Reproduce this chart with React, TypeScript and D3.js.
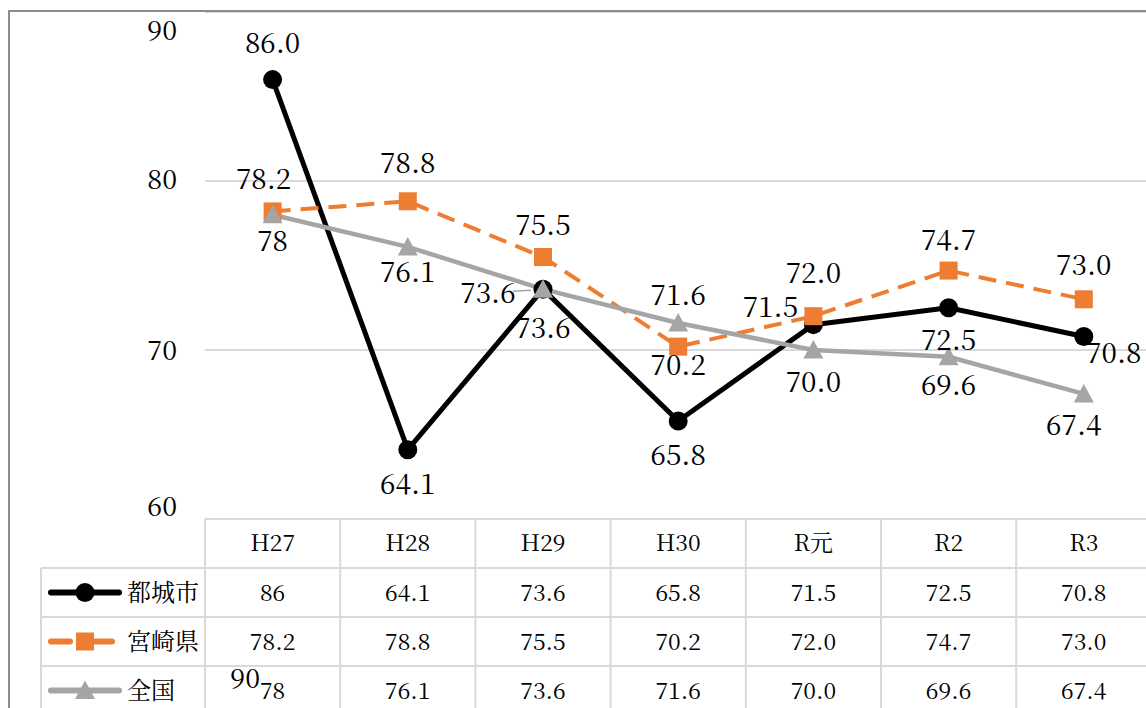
import React from "react";
import * as d3 from "d3";

const categories = ["H27", "H28", "H29", "H30", "R元", "R2", "R3"];
const seriesNames = ["都城市", "宮崎県", "全国"];
const miyakonojo = [86.0, 64.1, 73.6, 65.8, 71.5, 72.5, 70.8];
const miyazaki = [78.2, 78.8, 75.5, 70.2, 72.0, 74.7, 73.0];
const national = [78, 76.1, 73.6, 71.6, 70.0, 69.6, 67.4];
const miyakonojoChartLabels = ["86.0", "64.1", "73.6", "65.8", "71.5", "72.5", "70.8"];
const miyakonojoTableLabels = ["86", "64.1", "73.6", "65.8", "71.5", "72.5", "70.8"];
const miyazakiLabels = ["78.2", "78.8", "75.5", "70.2", "72.0", "74.7", "73.0"];
const nationalLabels = ["78", "76.1", "73.6", "71.6", "70.0", "69.6", "67.4"];
const yTicks = [60, 70, 80, 90];
const gridValues = [70, 80, 90];

const W = 1146;
const H = 708;
const FONT = '"Noto Serif CJK JP", "Noto Serif CJK SC", "Noto Serif JP", "Liberation Serif", serif';
const tf = { fontFamily: FONT };

// layout
const plotLeft = 205;
const colW = 135.2;
const yTop = 12;
const yBottom = 519;
const rowH = 49;
const legendLeft = 41;
const textShift = -2;

const x = d3
  .scaleBand<string>()
  .domain(categories)
  .range([plotLeft, plotLeft + colW * categories.length]);
const y = d3.scaleLinear().domain([60, 90]).range([yBottom, yTop]);

// label offsets (dx, dy from point to label centre)
const blackOff: [number, number][] = [[0, -37], [0, 34], [0, 39], [0, 34], [-43, -18], [0, 32], [30, 17]];
const orangeOff: [number, number][] = [[-9, -32], [0, -38], [0, -32], [0, 18], [0, -43], [0, -31], [0, -34]];
const grayOff: [number, number][] = [[0, 26], [0, 25], [-55, 4], [0, -28], [0, 32], [0, 28], [-10, 31]];

const tickLabelPos: Record<number, number> = { 60: 506, 70: 350, 80: 179, 90: 30 };

type Series = {
  name: string;
  values: number[];
  labels: string[];
  table: string[];
  color: string;
  width: number;
  dash?: string;
  marker: "circle" | "square" | "triangle";
  off: [number, number][];
};

const series: Series[] = [
  { name: seriesNames[0], values: miyakonojo, labels: miyakonojoChartLabels, table: miyakonojoTableLabels, color: "#000000", width: 5, marker: "circle", off: blackOff },
  { name: seriesNames[1], values: miyazaki, labels: miyazakiLabels, table: miyazakiLabels, color: "#ED7D31", width: 4, dash: "18,10", marker: "square", off: orangeOff },
  { name: seriesNames[2], values: national, labels: nationalLabels, table: nationalLabels, color: "#A5A5A5", width: 4.5, marker: "triangle", off: grayOff },
];

function Marker({ kind, cx, cy, color }: { kind: string; cx: number; cy: number; color: string }) {
  if (kind === "circle") return <circle cx={cx} cy={cy} r={9.5} fill={color} />;
  if (kind === "square") return <rect x={cx - 9} y={cy - 9} width={18} height={18} fill={color} />;
  const s = 10;
  return <path d={`M${cx},${cy - s}L${cx + s},${cy + s * 0.85}L${cx - s},${cy + s * 0.85}Z`} fill={color} />;
}

export default function App() {
  const line = d3
    .line<number>()
    .x((_, i) => (x(categories[i]) as number) + x.bandwidth() / 2)
    .y((d) => y(d));

  const cx = (i: number) => (x(categories[i]) as number) + x.bandwidth() / 2;
  const tableRight = plotLeft + colW * categories.length;
  const rowTops = [yBottom, yBottom + rowH, yBottom + 2 * rowH, yBottom + 3 * rowH, yBottom + 4 * rowH];
  const gridColor = "#d9d9d9";

  return (
    <svg width={W} height={H} style={{ position: "absolute", left: 0, top: 0, background: "#fff" }}>
      <rect x={0} y={0} width={W} height={H} fill="#fff" />
      {/* gridlines */}
      {gridValues.map((v) => (
        <line key={v} x1={plotLeft} x2={tableRight} y1={y(v)} y2={y(v)} stroke={gridColor} strokeWidth={2} />
      ))}
      {/* outer border */}
      <rect x={9} y={11} width={W + 20} height={H + 20} fill="none" stroke="#8c8c8c" strokeWidth={2} />
      {/* y tick labels */}
      {yTicks.map((v) => (
        <text key={v} x={177} y={tickLabelPos[v] + textShift} textAnchor="end" dominantBaseline="central" fontSize={27} fill="#000" style={tf}>
          {v}
        </text>
      ))}

      {/* table grid */}
      <line x1={plotLeft} x2={tableRight} y1={rowTops[0]} y2={rowTops[0]} stroke={gridColor} strokeWidth={2} />
      {rowTops.slice(1).map((ry, i) => (
        <line key={i} x1={legendLeft} x2={tableRight} y1={ry} y2={ry} stroke={gridColor} strokeWidth={2} />
      ))}
      <line x1={legendLeft} x2={legendLeft} y1={rowTops[1]} y2={H + 10} stroke={gridColor} strokeWidth={2} />
      {categories.map((c) => (
        <line key={c} x1={x(c) as number} x2={x(c) as number} y1={rowTops[0]} y2={H + 10} stroke={gridColor} strokeWidth={2} />
      ))}
      <line x1={tableRight} x2={tableRight} y1={rowTops[0]} y2={H + 10} stroke={gridColor} strokeWidth={2} />

      {/* header */}
      {categories.map((c, i) => (
        <text key={c} x={cx(i)} y={rowTops[0] + rowH / 2 + textShift} textAnchor="middle" dominantBaseline="central" fontSize={23} style={tf}>
          {c}
        </text>
      ))}
      {/* rows */}
      {series.map((s, si) => {
        const ry = rowTops[si + 1] + rowH / 2;
        return (
          <g key={s.name}>
            {s.dash ? (
              <>
                <line x1={51} x2={70} y1={ry} y2={ry} stroke={s.color} strokeWidth={6} strokeLinecap="round" />
                <line x1={95} x2={112} y1={ry} y2={ry} stroke={s.color} strokeWidth={6} strokeLinecap="round" />
              </>
            ) : (
              <line x1={51} x2={119} y1={ry} y2={ry} stroke={s.color} strokeWidth={6} strokeLinecap="round" />
            )}
            <Marker kind={s.marker} cx={85} cy={ry} color={s.color} />
            <text x={127} y={ry + textShift} dominantBaseline="central" fontSize={24} style={tf}>
              {s.name}
            </text>
            {s.table.map((t, i) => (
              <text key={i} x={cx(i)} y={ry + 1 + textShift} textAnchor="middle" dominantBaseline="central" fontSize={23} style={tf}>
                {t}
              </text>
            ))}
          </g>
        );
      })}
      {/* stray label */}
      <text x={260} y={678 + textShift} textAnchor="end" dominantBaseline="central" fontSize={27} style={tf}>
        90
      </text>

      {/* lines */}
      {series.map((s) => (
        <path
          key={s.name}
          d={line(s.values) as string}
          fill="none"
          stroke={s.color}
          strokeWidth={s.width}
          strokeDasharray={s.dash}
          strokeLinejoin="round"
        />
      ))}
      {series.map((s) => (
        <g key={s.name + "m"}>
          {s.values.map((v, i) => (
            <Marker key={i} kind={s.marker} cx={cx(i)} cy={y(v)} color={s.color} />
          ))}
        </g>
      ))}
      {/* leader line for gray H29 */}
      <line x1={cx(2) - 30} x2={cx(2) - 12} y1={y(national[2]) + 2} y2={y(national[2]) + 1} stroke="#A5A5A5" strokeWidth={1.5} />
      {/* data labels */}
      {series.map((s) => (
        <g key={s.name + "l"}>
          {s.values.map((v, i) => (
            <text
              key={i}
              x={cx(i) + s.off[i][0]}
              y={y(v) + s.off[i][1] + textShift}
              textAnchor="middle"
              dominantBaseline="central"
              fontSize={28}
              fill="#000"
              style={tf}
            >
              {s.labels[i]}
            </text>
          ))}
        </g>
      ))}
    </svg>
  );
}
